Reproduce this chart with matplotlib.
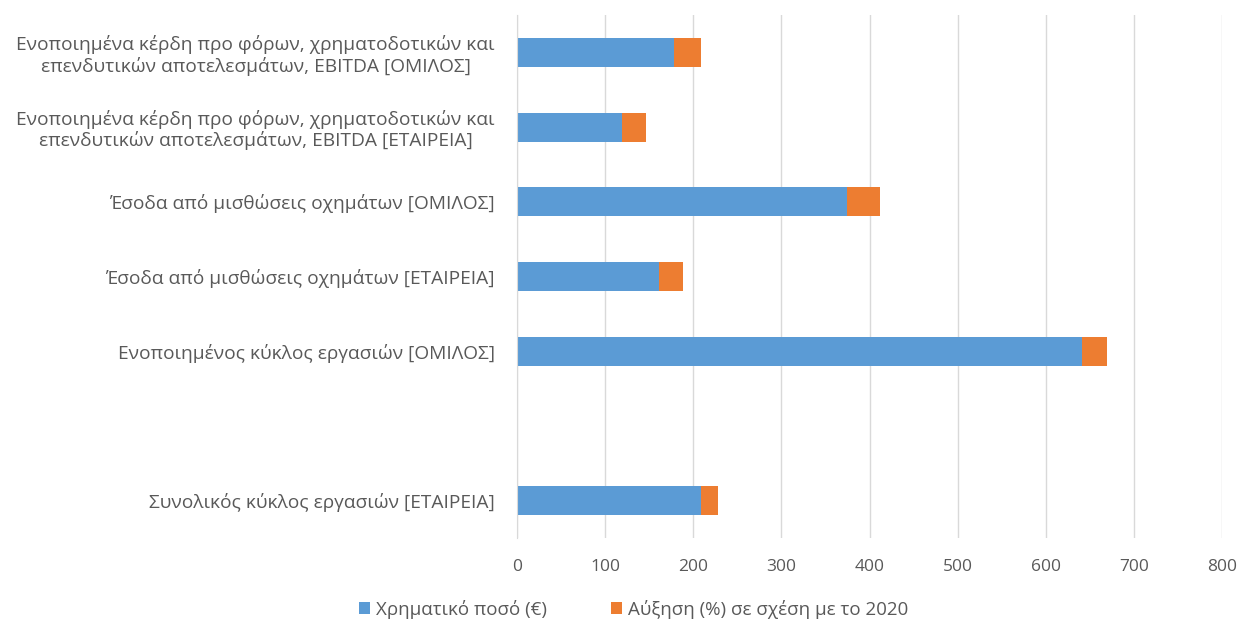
import matplotlib

matplotlib.use("Agg")
import matplotlib.pyplot as plt

# Κατηγορίες από πάνω προς τα κάτω (η κενή θέση κρατά το κενό πριν την τελευταία μπάρα).
categories = [
    "Ενοποιημένα κέρδη προ φόρων, χρηματοδοτικών και\nεπενδυτικών αποτελεσμάτων, EBITDA [ΟΜΙΛΟΣ]",
    "Ενοποιημένα κέρδη προ φόρων, χρηματοδοτικών και\nεπενδυτικών αποτελεσμάτων, EBITDA [ΕΤΑΙΡΕΙΑ]",
    "Έσοδα από μισθώσεις οχημάτων [ΟΜΙΛΟΣ]",
    "Έσοδα από μισθώσεις οχημάτων [ΕΤΑΙΡΕΙΑ]",
    "Ενοποιημένος κύκλος εργασιών [ΟΜΙΛΟΣ]",
    "",
    "Συνολικός κύκλος εργασιών [ΕΤΑΙΡΕΙΑ]",
]
amount = [178, 119, 374, 161, 641, 0, 209]
increase = [31, 27, 38, 27, 29, 0, 19]

series_labels = ["Χρηματικό ποσό (€)", "Αύξηση (%) σε σχέση με το 2020"]
xticks = [0, 100, 200, 300, 400, 500, 600, 700, 800]

BLUE = "#5B9BD5"
ORANGE = "#ED7D31"
TEXT = "#595959"
GRID = "#D9D9D9"

plt.rcParams["font.family"] = ["Open Sans", "DejaVu Sans"]

fig = plt.figure(figsize=(12.42, 6.25), dpi=100)
ax = fig.add_axes([0.4163, 0.139, 0.5676, 0.837])

ypos = list(range(len(categories)))
ax.barh(ypos, amount, height=0.39, color=BLUE, label=series_labels[0])
ax.barh(ypos, increase, left=amount, height=0.39, color=ORANGE, label=series_labels[1])

ax.set_xlim(0, 800)
ax.set_ylim(len(categories) - 0.5, -0.5)
ax.set_xticks(xticks)
ax.set_xticklabels([str(t) for t in xticks], fontsize=12.5, color=TEXT)
ax.set_yticks(ypos)
ax.set_yticklabels(categories, fontsize=13.8, color=TEXT, multialignment="center",
                   linespacing=1.15)
ax.tick_params(axis="both", length=0)
ax.tick_params(axis="y", pad=16)
ax.tick_params(axis="x", pad=15)

ax.grid(axis="x", color=GRID, linewidth=1)
ax.set_axisbelow(True)
for side in ("top", "right", "bottom"):
    ax.spines[side].set_visible(False)
ax.spines["left"].set_color(GRID)

fig.legend(
    loc="center",
    bbox_to_anchor=(0.51, 0.025),
    ncol=2,
    frameon=False,
    fontsize=13.5,
    labelcolor=TEXT,
    handlelength=0.6,
    handleheight=0.6,
    handletextpad=0.3,
    columnspacing=3.4,
)

fig.savefig("out.png", dpi=100)
